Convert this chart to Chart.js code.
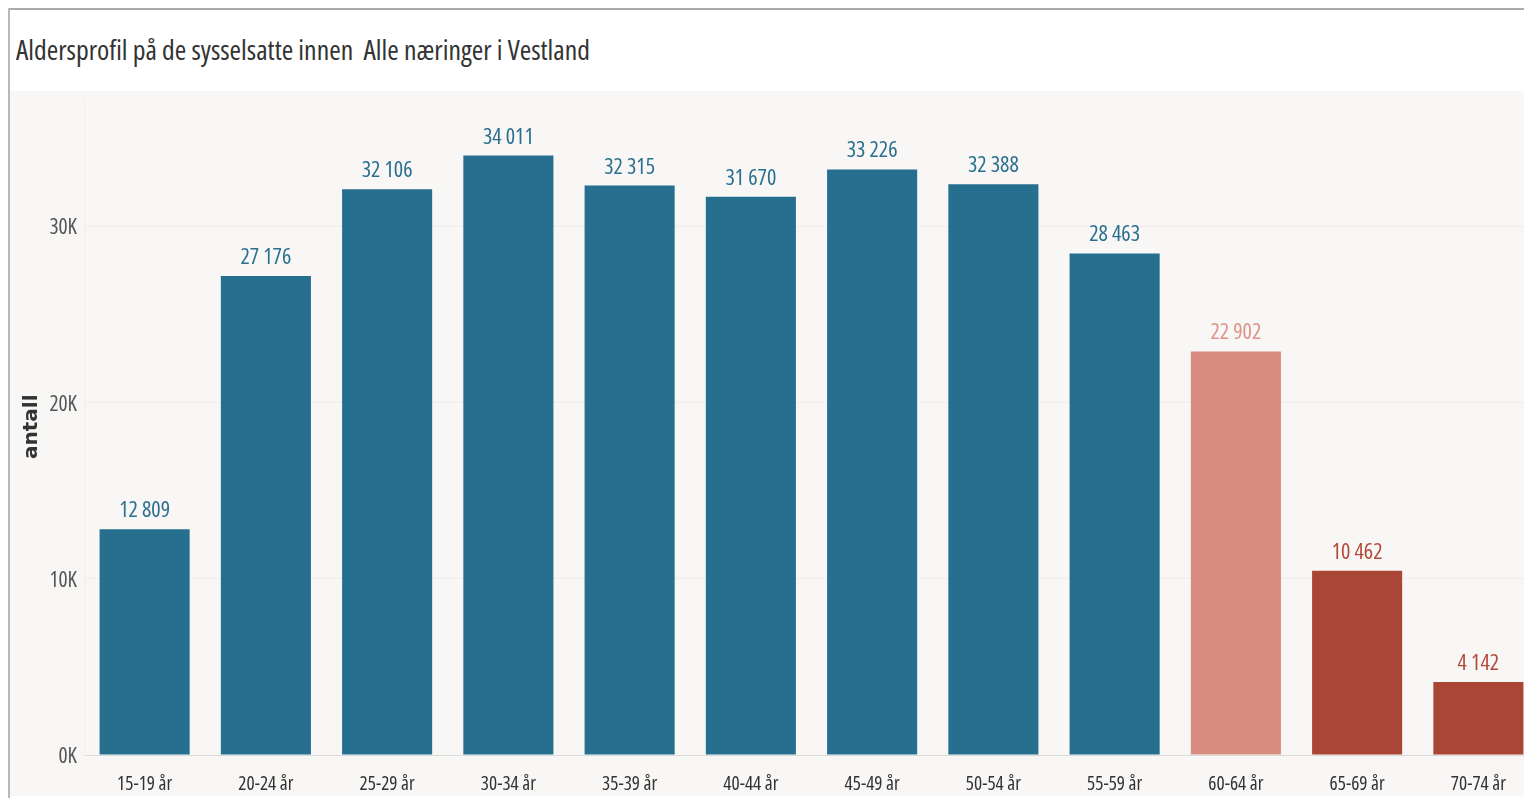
<!DOCTYPE html>
<html>
<head>
<meta charset="utf-8">
<script src="https://cdn.jsdelivr.net/npm/chart.js@4.4.1/dist/chart.umd.min.js"></script>
<style>
  html, body { margin:0; padding:0; background:#ffffff; width:1524px; height:798px; overflow:hidden; position:relative; }
  #frameTop { position:absolute; left:8px; top:8px; width:1516px; height:2px; background:#ababab; }
  #frameLeft { position:absolute; left:8px; top:8px; width:2px; height:790px; background:#b8b8b8; }
  #title { position:absolute; left:16px; top:35px; font-size:28px; line-height:1; color:#333333; white-space:pre; transform-origin:0 0; }
  #wrap { position:absolute; left:10px; top:91px; width:1529px; height:705px; background:#f8f7f6; }
  #chart { display:block; }
</style>
</head>
<body>
<div id="frameTop"></div>
<div id="frameLeft"></div>
<div id="title">Aldersprofil på de sysselsatte innen  Alle næringer i Vestland</div>
<div id="wrap"><canvas id="chart" width="1529" height="705"></canvas></div>
<script>
const categories = ['15-19 år','20-24 år','25-29 år','30-34 år','35-39 år','40-44 år','45-49 år','50-54 år','55-59 år','60-64 år','65-69 år','70-74 år'];
const values = [12809, 27176, 32106, 34011, 32315, 31670, 33226, 32388, 28463, 22902, 10462, 4142];
const barColors = ['#266f8f','#266f8f','#266f8f','#266f8f','#266f8f','#266f8f','#266f8f','#266f8f','#266f8f','#d78c7f','#aa4636','#aa4636'];
const labelColors = ['#2b6f8e','#2b6f8e','#2b6f8e','#2b6f8e','#2b6f8e','#2b6f8e','#2b6f8e','#2b6f8e','#2b6f8e','#df9386','#b34a39','#b34a39'];
const yTickValues = [0, 10000, 20000, 30000];
const yMax = 37250;

// ---- choose the narrowest available sans font (reference uses a condensed face) ----
const mctx = document.createElement('canvas').getContext('2d');
function mw(font, text){ mctx.font = font; return mctx.measureText(text).width; }
function pickFont(){
  const sample = '15-19 år 34 011 30K Aldersprofil';
  const mono = mw('100px monospace', sample);
  const cands = [
    {family:'"Noto Sans"', stretch:'extra-condensed'},
    {family:'"Open Sans"', stretch:'condensed'},
    {family:'"Noto Sans"', stretch:'condensed'},
    {family:'"Roboto"', stretch:'condensed'},
    {family:'"Liberation Sans Narrow"', stretch:''},
    {family:'"DejaVu Sans Condensed"', stretch:''},
    {family:'"DejaVu Sans"', stretch:'condensed'}
  ];
  let best = {family:'"DejaVu Sans Condensed", sans-serif', stretch:'', w:1e9};
  cands.forEach(c => {
    const plain = mw('100px ' + c.family + ', monospace', sample);
    if (Math.abs(plain - mono) < 0.5) return;             // not installed
    let w = plain;
    if (c.stretch) {
      w = mw(c.stretch + ' 100px ' + c.family + ', monospace', sample);
      if (w > plain * 0.97) return;                        // stretch not effective
    }
    if (w < best.w) best = {family:c.family, stretch:c.stretch, w:w};
  });
  return best;
}
const PF = pickFont();
const FAMILY = PF.family + ', sans-serif';
const STRETCH = PF.stretch; // goes in the weight slot of Chart.js font strings

function fontStr(size, weight){ return (STRETCH ? STRETCH + ' ' : '') + (weight ? weight + ' ' : '') + size + 'px ' + FAMILY; }
function sizeFor(text, targetW, targetCap){
  const w100 = mw(fontStr(100), text);
  mctx.font = fontStr(100);
  const cap100 = mctx.measureText('0').actualBoundingBoxAscent || 72;
  const sH = targetCap * 100 / cap100;
  const sW = targetW * 100 / w100;
  return Math.round(Math.sqrt(sH * sW) * 10) / 10;
}
const SZ_VALUE = sizeFor('34 011', 48, 17);
const SZ_XTICK = sizeFor('15-19 år', 53, 14.5);
const SZ_YTICK = sizeFor('30K', 27, 16);

// title: same face, fitted to the reference width
(function(){
  const t = document.getElementById('title');
  t.style.fontFamily = FAMILY;
  if (STRETCH) t.style.fontStretch = STRETCH;
  const w = t.getBoundingClientRect().width;
  if (w > 0) t.style.transform = 'scaleX(' + (574 / w) + ')';
})();

function fmt(v){ return String(v).replace(/\B(?=(\d{3})+(?!\d))/g, ' '); }

const valueLabels = {
  id: 'valueLabels',
  afterDatasetsDraw(chart){
    const ctx = chart.ctx;
    const meta = chart.getDatasetMeta(0);
    ctx.save();
    ctx.font = fontStr(SZ_VALUE);
    ctx.textAlign = 'center';
    ctx.textBaseline = 'alphabetic';
    meta.data.forEach((bar, i) => {
      ctx.fillStyle = labelColors[i];
      ctx.fillText(fmt(values[i]), bar.x, bar.y - 12);
    });
    ctx.restore();
  }
};

new Chart(document.getElementById('chart'), {
  type: 'bar',
  data: {
    labels: categories,
    datasets: [{
      data: values,
      backgroundColor: barColors,
      borderWidth: 0,
      barPercentage: 0.743,
      categoryPercentage: 1.0
    }]
  },
  options: {
    responsive: false,
    animation: false,
    devicePixelRatio: 1,
    layout: { padding: { top: 0, right: 0, bottom: 0, left: 0 } },
    plugins: { legend: { display: false }, tooltip: { enabled: false }, title: { display: false } },
    scales: {
      x: {
        afterFit: s => { s.height = 41; },
        grid: { display: false, drawTicks: false },
        border: { display: true, color: '#dcdbd9', dash: [2, 2] },
        ticks: { padding: 18, color: '#333333', font: { family: FAMILY, size: SZ_XTICK, weight: STRETCH || undefined }, maxRotation: 0, autoSkip: false }
      },
      y: {
        min: 0,
        max: yMax,
        afterBuildTicks: s => { s.ticks = yTickValues.map(v => ({ value: v })); },
        afterFit: s => { s.width = 74; },
        grid: { color: '#eeedeb', lineWidth: 1, drawTicks: false },
        border: { display: true, color: '#efeeec' },
        ticks: { padding: 7, labelOffset: 2, color: '#555555', font: { family: FAMILY, size: SZ_YTICK, weight: STRETCH || undefined, lineHeight: 0.05 }, callback: v => (v / 1000) + 'K' },
        title: { display: true, text: 'antall', color: '#333333', font: { family: "'DejaVu Sans', sans-serif", size: 20, weight: 'bold' }, padding: { top: 10, bottom: 0 } }
      }
    }
  },
  plugins: [valueLabels]
});
</script>
</body>
</html>
